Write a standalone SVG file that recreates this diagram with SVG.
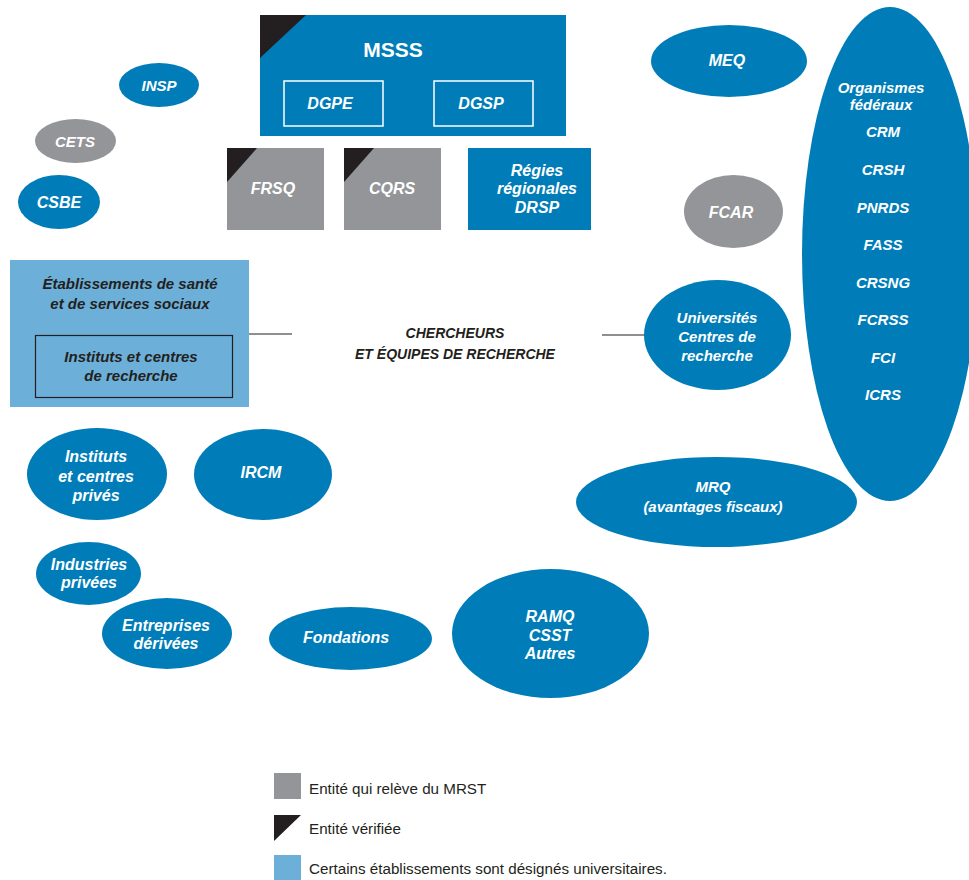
<svg xmlns="http://www.w3.org/2000/svg" width="969" height="880" viewBox="0 0 969 880">
<style>
.b{fill:#007db8}
.g{fill:#939598}
.k{fill:#231f20}
.lb{fill:#6cafd8}
.w{fill:#fff;font-family:"Liberation Sans",Arial,sans-serif;font-weight:bold;font-style:italic;text-anchor:middle}
.up{font-style:normal}
.d{fill:#231f20;font-family:"Liberation Sans",Arial,sans-serif;font-weight:bold;font-style:italic;text-anchor:middle}
.lg{fill:#231f20;font-family:"Liberation Sans",Arial,sans-serif;font-size:15.2px}
.box{fill:none;stroke:#fff;stroke-width:1.5}
.ln{stroke:#231f20;stroke-width:1.2;fill:none}
</style>
<rect width="969" height="880" fill="#fff"/>

<g id="connectors">
<line class="ln" x1="248" y1="334" x2="292" y2="334"/>
<line class="ln" x1="602" y1="335" x2="646" y2="335"/>
</g>

<g id="msss">
<rect class="b" x="260" y="15" width="306" height="121"/>
<polygon class="k" points="260,15 306,15 260,58"/>
<text class="w up" x="393" y="57" font-size="21">MSSS</text>
</g>
<g id="dgpe">
<rect class="box" x="284" y="81" width="99" height="45"/>
<text class="w" x="330" y="109" font-size="16">DGPE</text>
</g>
<g id="dgsp">
<rect class="box" x="434" y="81" width="99" height="45"/>
<text class="w" x="481" y="109" font-size="16">DGSP</text>
</g>
<g id="frsq">
<rect class="g" x="227" y="148" width="97" height="82"/>
<polygon class="k" points="227,148 257,148 227,182"/>
<text class="w" x="273" y="194" font-size="16">FRSQ</text>
</g>
<g id="cqrs">
<rect class="g" x="344" y="148" width="97" height="82"/>
<polygon class="k" points="344,148 374,148 344,182"/>
<text class="w" x="392" y="194" font-size="16">CQRS</text>
</g>
<g id="regies">
<rect class="b" x="468" y="148" width="123" height="82"/>
<text class="w" x="537" y="176" font-size="16">Régies</text>
<text class="w" x="537" y="194" font-size="16">régionales</text>
<text class="w" x="537" y="213" font-size="16">DRSP</text>
</g>

<g id="insp">
<ellipse class="b" cx="159" cy="85" rx="40" ry="22"/>
<text class="w" x="159" y="91" font-size="15">INSP</text>
</g>
<g id="cets">
<ellipse class="g" cx="75.5" cy="141" rx="40.5" ry="22"/>
<text class="w" x="75" y="147" font-size="15">CETS</text>
</g>
<g id="csbe">
<ellipse class="b" cx="59" cy="202" rx="41" ry="27"/>
<text class="w" x="59" y="208" font-size="16">CSBE</text>
</g>

<g id="etablissements">
<rect class="lb" x="10" y="260" width="239" height="147"/>
<text class="d" x="130" y="289" font-size="15">Établissements de santé</text>
<text class="d" x="130" y="309" font-size="15">et de services sociaux</text>
</g>
<g id="instituts-recherche">
<rect x="35.5" y="335.5" width="197" height="62" fill="none" stroke="#231f20" stroke-width="1.2"/>
<text class="d" x="131" y="362" font-size="15">Instituts et centres</text>
<text class="d" x="131" y="381" font-size="15">de recherche</text>
</g>

<g id="chercheurs">
<text class="d" x="455" y="338" font-size="14">CHERCHEURS</text>
<text class="d" x="455" y="359" font-size="14">ET ÉQUIPES DE RECHERCHE</text>
</g>

<g id="meq">
<ellipse class="b" cx="729" cy="61" rx="78" ry="36"/>
<text class="w" x="727" y="66" font-size="16">MEQ</text>
</g>
<g id="fcar">
<ellipse class="g" cx="733.5" cy="211.5" rx="49.5" ry="36.5"/>
<text class="w" x="731" y="218" font-size="16">FCAR</text>
</g>

<g id="organismes-federaux">
<ellipse class="b" cx="890" cy="254" rx="88" ry="247"/>
<text class="w" x="881" y="93" font-size="15">Organismes</text>
<text class="w" x="881" y="110" font-size="15">fédéraux</text>
<text class="w" x="883" y="137" font-size="15">CRM</text>
<text class="w" x="883" y="175" font-size="15">CRSH</text>
<text class="w" x="883" y="213" font-size="15">PNRDS</text>
<text class="w" x="883" y="250" font-size="15">FASS</text>
<text class="w" x="883" y="288" font-size="15">CRSNG</text>
<text class="w" x="883" y="325" font-size="15">FCRSS</text>
<text class="w" x="883" y="363" font-size="15">FCI</text>
<text class="w" x="883" y="400" font-size="15">ICRS</text>
</g>

<g id="universites">
<ellipse class="b" cx="717.5" cy="335" rx="73.5" ry="55"/>
<text class="w" x="717" y="323" font-size="15">Universités</text>
<text class="w" x="717" y="342" font-size="15">Centres de</text>
<text class="w" x="717" y="361" font-size="15">recherche</text>
</g>

<g id="mrq">
<ellipse class="b" cx="716.5" cy="502" rx="140.5" ry="45"/>
<text class="w" x="713" y="492" font-size="15">MRQ</text>
<text class="w" x="713" y="512" font-size="15">(avantages fiscaux)</text>
</g>

<g id="instituts-prives">
<ellipse class="b" cx="97" cy="474" rx="70" ry="46"/>
<text class="w" x="96" y="462" font-size="16">Instituts</text>
<text class="w" x="96" y="482" font-size="16">et centres</text>
<text class="w" x="96" y="501" font-size="16">privés</text>
</g>
<g id="ircm">
<ellipse class="b" cx="263" cy="474.5" rx="69" ry="45.5"/>
<text class="w" x="261" y="478" font-size="16">IRCM</text>
</g>
<g id="industries">
<ellipse class="b" cx="88.5" cy="573.5" rx="52.5" ry="31.5"/>
<text class="w" x="89" y="570" font-size="16">Industries</text>
<text class="w" x="89" y="588" font-size="16">privées</text>
</g>
<g id="entreprises">
<ellipse class="b" cx="167" cy="633.5" rx="65" ry="35.5"/>
<text class="w" x="166" y="631" font-size="16">Entreprises</text>
<text class="w" x="166" y="649" font-size="16">dérivées</text>
</g>
<g id="fondations">
<ellipse class="b" cx="350.5" cy="638.5" rx="81.5" ry="31.5"/>
<text class="w" x="346" y="643" font-size="16">Fondations</text>
</g>
<g id="ramq">
<ellipse class="b" cx="550.5" cy="633.5" rx="98.5" ry="64.5"/>
<text class="w" x="550" y="622" font-size="16">RAMQ</text>
<text class="w" x="550" y="641" font-size="16">CSST</text>
<text class="w" x="550" y="659" font-size="16">Autres</text>
</g>

<g id="legend">
<rect class="g" x="274" y="773" width="27" height="26"/>
<text class="lg" x="309" y="794">Entité qui relève du MRST</text>
<polygon class="k" points="274,815 301,815 274,841"/>
<text class="lg" x="309" y="834">Entité vérifiée</text>
<rect class="lb" x="274" y="855" width="27" height="25"/>
<text class="lg" x="309" y="874">Certains établissements sont désignés universitaires.</text>
</g>
</svg>
